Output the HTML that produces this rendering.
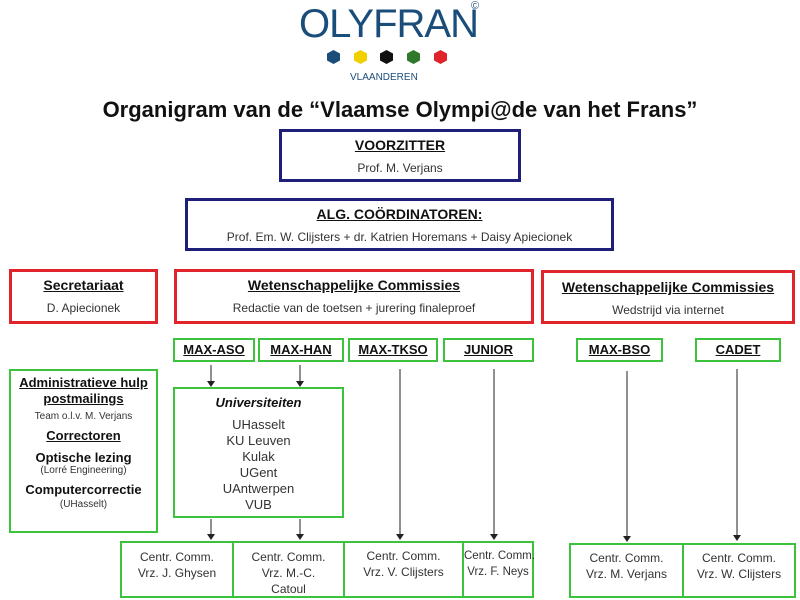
<!DOCTYPE html>
<html><head><meta charset="utf-8"><style>
body{margin:0;width:800px;height:600px;background:#fff;position:relative;font-family:"Liberation Sans",sans-serif;color:#222;overflow:hidden}
.b{position:absolute;box-sizing:border-box;text-align:center;white-space:nowrap}
.n{border:3px solid #1f1f7a}
.r{border:3px solid #e0242b}
.g{border:2px solid #3cc23c}
.t{font-weight:bold;text-decoration:underline;color:#111}
.s{font-size:12px;color:#333}
.hx{position:absolute;width:13px;height:14px;clip-path:polygon(50% 0,100% 25%,100% 75%,50% 100%,0 75%,0 25%)}
</style></head><body>
<div style="position:absolute;left:299px;top:2px;font-size:40px;color:#1b4d7a;letter-spacing:-1px">OLYFRAN</div>
<div style="position:absolute;left:471px;top:0px;font-size:11px;color:#1b4d7a">©</div>
<div class="hx" style="left:327px;top:50px;background:#1b4d7a"></div>
<div class="hx" style="left:354px;top:50px;background:#f0d000"></div>
<div class="hx" style="left:380px;top:50px;background:#111"></div>
<div class="hx" style="left:407px;top:50px;background:#2e7a2a"></div>
<div class="hx" style="left:434px;top:50px;background:#e0242b"></div>
<div style="position:absolute;left:350px;top:72px;font-size:10px;color:#1b4d7a">VLAANDEREN</div>
<div style="position:absolute;left:0;width:800px;top:97px;text-align:center;font-size:22px;font-weight:bold;color:#111">Organigram van de “Vlaamse Olympi@de van het Frans”</div>

<div class="b n" style="left:279px;top:129px;width:242px;height:53px"><div class="t" style="font-size:14px;margin-top:5px">VOORZITTER</div><div class="s" style="margin-top:8px">Prof. M. Verjans</div></div>
<div class="b n" style="left:185px;top:198px;width:429px;height:53px"><div class="t" style="font-size:14px;margin-top:5px">ALG. COÖRDINATOREN:</div><div class="s" style="margin-top:8px">Prof. Em. W. Clijsters + dr. Katrien Horemans + Daisy Apiecionek</div></div>

<div class="b r" style="left:9px;top:269px;width:149px;height:55px"><div class="t" style="font-size:14px;margin-top:5px">Secretariaat</div><div class="s" style="margin-top:8px">D. Apiecionek</div></div>
<div class="b r" style="left:174px;top:269px;width:360px;height:55px"><div class="t" style="font-size:14px;margin-top:5px">Wetenschappelijke Commissies</div><div class="s" style="margin-top:8px">Redactie van de toetsen + jurering finaleproef</div></div>
<div class="b r" style="left:541px;top:270px;width:254px;height:54px"><div class="t" style="font-size:14px;margin-top:6px">Wetenschappelijke Commissies</div><div class="s" style="margin-top:8px">Wedstrijd via internet</div></div>

<div class="b g t" style="left:173px;top:338px;width:82px;height:24px;font-size:13px;line-height:20px">MAX-ASO</div>
<div class="b g t" style="left:258px;top:338px;width:86px;height:24px;font-size:13px;line-height:20px">MAX-HAN</div>
<div class="b g t" style="left:348px;top:338px;width:90px;height:24px;font-size:13px;line-height:20px">MAX-TKSO</div>
<div class="b g t" style="left:443px;top:338px;width:91px;height:24px;font-size:13px;line-height:20px">JUNIOR</div>
<div class="b g t" style="left:576px;top:338px;width:87px;height:24px;font-size:13px;line-height:20px">MAX-BSO</div>
<div class="b g t" style="left:695px;top:338px;width:86px;height:24px;font-size:13px;line-height:20px">CADET</div>

<div class="b g" style="left:9px;top:369px;width:149px;height:164px">
<div class="t" style="font-size:13px;margin-top:4px;line-height:16px">Administratieve hulp<br>postmailings</div>
<div style="font-size:10px;color:#333;margin-top:4px">Team o.l.v. M. Verjans</div>
<div class="t" style="font-size:13px;margin-top:6px">Correctoren</div>
<div style="font-size:13px;font-weight:bold;margin-top:7px;color:#111">Optische lezing</div>
<div style="font-size:10px;color:#333">(Lorré Engineering)</div>
<div style="font-size:13px;font-weight:bold;margin-top:6px;color:#111">Computercorrectie</div>
<div style="font-size:10px;color:#333;margin-top:2px">(UHasselt)</div>
</div>
<div class="b g" style="left:173px;top:387px;width:171px;height:131px;font-size:13px;color:#333;line-height:16px">
<div style="font-weight:bold;font-style:italic;color:#111;margin-top:6px">Universiteiten</div>
<div style="margin-top:6px">UHasselt<br>KU Leuven<br>Kulak<br>UGent<br>UAntwerpen<br>VUB</div></div>

<div class="b g" style="left:120px;top:541px;width:114px;height:57px;font-size:12px;color:#333;padding-top:6px;line-height:16px">Centr. Comm.<br>Vrz. J. Ghysen</div>
<div class="b g" style="left:232px;top:541px;width:113px;height:57px;font-size:12px;color:#333;padding-top:6px;line-height:16px">Centr. Comm.<br>Vrz. M.-C.<br>Catoul</div>
<div class="b g" style="left:343px;top:541px;width:121px;height:57px;font-size:12px;color:#333;padding-top:5px;line-height:16px">Centr. Comm.<br>Vrz. V. Clijsters</div>
<div class="b g" style="left:462px;top:541px;width:72px;height:57px;font-size:11.5px;color:#333;padding-top:5px;line-height:16px">Centr. Comm.<br>Vrz. F. Neys</div>
<div class="b g" style="left:569px;top:543px;width:115px;height:55px;font-size:12px;color:#333;padding-top:5px;line-height:16px">Centr. Comm.<br>Vrz. M. Verjans</div>
<div class="b g" style="left:682px;top:543px;width:114px;height:55px;font-size:12px;color:#333;padding-top:5px;line-height:16px">Centr. Comm.<br>Vrz. W. Clijsters</div>

<svg width="800" height="600" style="position:absolute;left:0;top:0" stroke="#222" fill="#222">
<g stroke-width="1">
<line x1="211" y1="365" x2="211" y2="382"/><line x1="300" y1="365" x2="300" y2="382"/>
<line x1="211" y1="519" x2="211" y2="535"/><line x1="300" y1="519" x2="300" y2="535"/>
<line x1="400" y1="369" x2="400" y2="535"/><line x1="494" y1="369" x2="494" y2="535"/>
<line x1="627" y1="371" x2="627" y2="537"/><line x1="737" y1="369" x2="737" y2="536"/>
</g>
<g stroke="none">
<path d="M207 381h8l-4 6z"/><path d="M296 381h8l-4 6z"/>
<path d="M207 534h8l-4 6z"/><path d="M296 534h8l-4 6z"/>
<path d="M396 534h8l-4 6z"/><path d="M490 534h8l-4 6z"/>
<path d="M623 536h8l-4 6z"/><path d="M733 535h8l-4 6z"/>
</g></svg>
</body></html>
